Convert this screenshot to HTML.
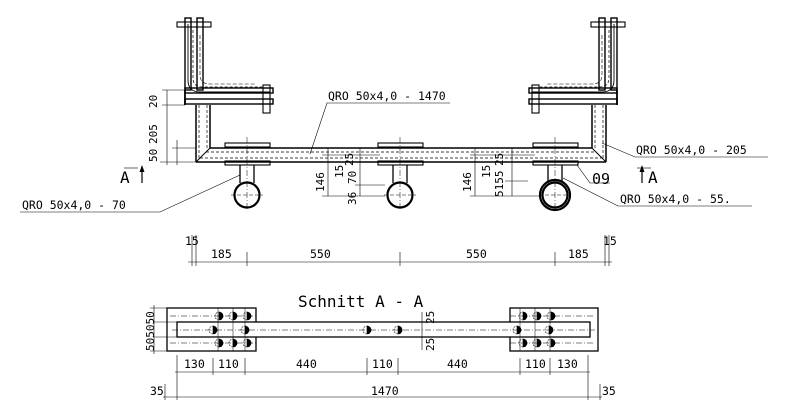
<!DOCTYPE html>
<html><head><style>
html,body{margin:0;padding:0;background:#fff;}
svg{display:block;}
text{font-family:"DejaVu Sans Mono","Liberation Mono",monospace;fill:#000;}
</style></head><body>
<svg width="800" height="412" viewBox="0 0 800 412" xmlns="http://www.w3.org/2000/svg">
<defs>
<g id="brL" stroke="#000" fill="none">
  <rect x="185" y="18" width="6" height="72" stroke-width="1.4"/>
  <rect x="197" y="18" width="6" height="72" stroke-width="1.4"/>
  <path d="M188 24 V80 Q188 92 200 92 H270" stroke-width="0.9"/>
  <path d="M193 30 V78 Q193 87 203 87 H262" stroke-width="0.7" stroke-dasharray="3,2"/>
  <path d="M200 35 V75 Q200 84 210 84 H255" stroke-width="0.6" stroke-dasharray="4,2"/>
  <rect x="185" y="88" width="88" height="5" stroke-width="1.4"/>
  <rect x="185" y="99" width="88" height="5" stroke-width="1.4"/>
  <line x1="185" y1="90" x2="185" y2="105" stroke-width="1.8"/>
  <rect x="177" y="22" width="34" height="5" stroke-width="1.1"/>
  <rect x="263" y="85" width="7" height="28" stroke-width="1.1"/>
  <line x1="196" y1="105" x2="196" y2="162" stroke-width="1.5"/>
  <line x1="210" y1="105" x2="210" y2="148" stroke-width="1.5"/>
  <line x1="199" y1="105" x2="199" y2="158" stroke-width="0.7" stroke-dasharray="3,2"/>
  <line x1="207" y1="105" x2="207" y2="150" stroke-width="0.7" stroke-dasharray="3,2"/>
  <line x1="196" y1="162" x2="210" y2="148" stroke-width="1"/>
</g>
<g id="wheel" stroke="#000" fill="none">
  <rect x="-22" y="-52" width="45" height="4" stroke-width="1.1"/>
  <rect x="-22" y="-34" width="45" height="4" stroke-width="1.1"/>
  <line x1="-7" y1="-30" x2="-7" y2="-12" stroke-width="1.3"/>
  <line x1="7" y1="-30" x2="7" y2="-12" stroke-width="1.3"/>
  <circle cx="0" cy="0" r="12.5" stroke-width="2.2"/>
  <line x1="0" y1="-58" x2="0" y2="16" stroke-width="0.5" stroke-dasharray="6,2,1,2"/>
  <line x1="-16" y1="0" x2="16" y2="0" stroke-width="0.5" stroke-dasharray="4,2"/>
</g>
</defs>

<use href="#brL"/>
<use href="#brL" transform="translate(802,0) scale(-1,1)"/>

<g stroke="#000" fill="none">
<line x1="210" y1="148" x2="592" y2="148" stroke-width="1.5"/>
<line x1="196" y1="162" x2="606" y2="162" stroke-width="1.5"/>
<line x1="206" y1="152" x2="596" y2="152" stroke-width="0.7" stroke-dasharray="3,2"/>
<line x1="200" y1="158" x2="602" y2="158" stroke-width="0.7" stroke-dasharray="3,2"/>
</g>
<use href="#wheel" transform="translate(247,195)"/>
<use href="#wheel" transform="translate(400,195)"/>
<g transform="translate(555,195)"><use href="#wheel"/><circle r="15" fill="none" stroke="#000" stroke-width="2.2"/></g>

<g stroke="#000" stroke-width="0.6" fill="none">
<line x1="167" y1="90" x2="167" y2="165"/>
<line x1="177" y1="140" x2="177" y2="165"/>
<line x1="162" y1="90" x2="185" y2="90"/><line x1="162" y1="105" x2="185" y2="105"/>
<line x1="160" y1="162" x2="196" y2="162"/><line x1="172" y1="148" x2="196" y2="148"/>
<line x1="328" y1="148" x2="328" y2="196"/><line x1="360" y1="148" x2="360" y2="196"/>
<line x1="322" y1="196" x2="385" y2="196"/><line x1="355" y1="185" x2="385" y2="185"/>
<line x1="322" y1="155" x2="380" y2="155"/><line x1="355" y1="162" x2="380" y2="162"/>
<line x1="475" y1="148" x2="475" y2="196"/><line x1="512" y1="148" x2="512" y2="196"/>
<line x1="470" y1="196" x2="540" y2="196"/><line x1="505" y1="181" x2="528" y2="181"/>
<line x1="470" y1="155" x2="535" y2="155"/>
<line x1="188" y1="262" x2="612" y2="262"/>
<line x1="192" y1="235" x2="192" y2="266"/><line x1="196" y1="235" x2="196" y2="266"/>
<line x1="247" y1="252" x2="247" y2="266"/><line x1="400" y1="252" x2="400" y2="266"/>
<line x1="555" y1="252" x2="555" y2="266"/>
<line x1="605" y1="235" x2="605" y2="266"/><line x1="609" y1="235" x2="609" y2="266"/>
<polyline points="20,212 160,212 240,175"/>
<polyline points="310,154 327,103 450,103"/>
<polyline points="602,143 635,157 768,157"/>
<polyline points="577,165 590,183 610,183"/>
<polyline points="563,178 618,206 752,206"/>
<polyline points="124,168 138,168"/><line x1="142" y1="167" x2="142" y2="183" stroke-width="1.2"/>
<polyline points="637,168 651,168"/><line x1="642" y1="167" x2="642" y2="183" stroke-width="1.2"/>
</g>
<path d="M142 165 l-2.5 7 h5 z M642 165 l-2.5 7 h5 z" fill="#000"/>

<g font-size="11.5">
<text x="120" y="183" font-family="Liberation Sans" font-size="16">A</text>
<text x="648" y="183" font-family="Liberation Sans" font-size="16">A</text>
<text x="22" y="209">QRO 50x4,0 - 70</text>
<text x="328" y="100">QRO 50x4,0 - 1470</text>
<text x="636" y="154">QRO 50x4,0 - 205</text>
<text x="620" y="203">QRO 50x4,0 - 55.</text>
<text x="592" y="184" font-size="15" font-family="Liberation Sans">09</text>
<text x="185" y="245">15</text><text x="211" y="258">185</text>
<text x="310" y="258">550</text><text x="466" y="258">550</text>
<text x="568" y="258">185</text><text x="603" y="245">15</text>
<g font-size="11">
<text transform="translate(157,108) rotate(-90)">20</text>
<text transform="translate(157,144) rotate(-90)">205</text>
<text transform="translate(157,162) rotate(-90)">50</text>
<text transform="translate(324,192) rotate(-90)">146</text>
<text transform="translate(343,178) rotate(-90)">15</text>
<text transform="translate(353,166) rotate(-90)">25</text>
<text transform="translate(356,184) rotate(-90)">70</text>
<text transform="translate(356,205) rotate(-90)">36</text>
<text transform="translate(471,192) rotate(-90)">146</text>
<text transform="translate(490,178) rotate(-90)">15</text>
<text transform="translate(503,166) rotate(-90)">25</text>
<text transform="translate(503,197) rotate(-90)">5155</text>
</g>
</g>

<text x="298" y="307" font-family="Liberation Sans" font-size="16">Schnitt A - A</text>
<g stroke="#000" fill="none">
<rect x="167" y="308" width="89" height="43" stroke-width="1.3"/>
<rect x="510" y="308" width="88" height="43" stroke-width="1.3"/>
<rect x="177" y="322" width="413" height="15" stroke-width="1.3" fill="#fff"/>
<g stroke-width="0.5" stroke-dasharray="6,2,1,2">
<line x1="170" y1="316" x2="256" y2="316"/><line x1="170" y1="343" x2="256" y2="343"/>
<line x1="510" y1="316" x2="595" y2="316"/><line x1="510" y1="343" x2="595" y2="343"/>
<line x1="172" y1="330" x2="595" y2="330"/>
</g>
<g stroke-width="0.5">
<line x1="218" y1="308" x2="218" y2="351"/><line x1="233" y1="308" x2="233" y2="351"/><line x1="245" y1="308" x2="245" y2="351"/>
<line x1="520" y1="308" x2="520" y2="351"/><line x1="535" y1="308" x2="535" y2="351"/><line x1="550" y1="308" x2="550" y2="351"/>
</g>
</g>
<g fill="#000" stroke="#000" stroke-width="0.6">
<g id="bolts">
<circle cx="219" cy="316" r="4" fill="none" stroke-dasharray="2,1"/><path d="M219 312 a4 4 0 0 1 0 8z"/>
<circle cx="233" cy="316" r="4" fill="none" stroke-dasharray="2,1"/><path d="M233 312 a4 4 0 0 1 0 8z"/>
<circle cx="247" cy="316" r="4" fill="none" stroke-dasharray="2,1"/><path d="M247 312 a4 4 0 0 1 0 8z"/>
<circle cx="219" cy="343" r="4" fill="none" stroke-dasharray="2,1"/><path d="M219 339 a4 4 0 0 1 0 8z"/>
<circle cx="233" cy="343" r="4" fill="none" stroke-dasharray="2,1"/><path d="M233 339 a4 4 0 0 1 0 8z"/>
<circle cx="247" cy="343" r="4" fill="none" stroke-dasharray="2,1"/><path d="M247 339 a4 4 0 0 1 0 8z"/>
<circle cx="213" cy="330" r="4" fill="none" stroke-dasharray="2,1"/><path d="M213 326 a4 4 0 0 1 0 8z"/>
<circle cx="245" cy="330" r="4" fill="none" stroke-dasharray="2,1"/><path d="M245 326 a4 4 0 0 1 0 8z"/>
</g>
<use href="#bolts" transform="translate(304,0)"/>
<circle cx="367" cy="330" r="4" fill="none" stroke-dasharray="2,1"/><path d="M367 326 a4 4 0 0 1 0 8z"/>
<circle cx="398" cy="330" r="4" fill="none" stroke-dasharray="2,1"/><path d="M398 326 a4 4 0 0 1 0 8z"/>
</g>
<g stroke="#000" stroke-width="0.6" fill="none">
<line x1="153" y1="322" x2="177" y2="322"/><line x1="153" y1="337" x2="177" y2="337"/>
<line x1="150" y1="351" x2="167" y2="351"/><line x1="150" y1="308" x2="167" y2="308"/>
<line x1="154" y1="305" x2="154" y2="354"/>
<line x1="422" y1="312" x2="422" y2="350"/>
<line x1="177" y1="355" x2="177" y2="400"/><line x1="213" y1="358" x2="213" y2="375"/>
<line x1="245" y1="358" x2="245" y2="375"/><line x1="367" y1="358" x2="367" y2="375"/>
<line x1="398" y1="358" x2="398" y2="375"/><line x1="520" y1="358" x2="520" y2="375"/>
<line x1="550" y1="358" x2="550" y2="375"/><line x1="588" y1="355" x2="588" y2="400"/>
<line x1="175" y1="372" x2="590" y2="372"/>
<line x1="165" y1="384" x2="165" y2="400"/><line x1="600" y1="384" x2="600" y2="400"/>
<line x1="163" y1="397" x2="602" y2="397"/>
</g>
<g font-size="11">
<text transform="translate(154,351) rotate(-90)">505050</text>
<text transform="translate(434,324) rotate(-90)">25</text>
<text transform="translate(434,351) rotate(-90)">25</text>
</g>
<g font-size="11.5">
<text x="184" y="368">130</text><text x="218" y="368">110</text>
<text x="296" y="368">440</text><text x="372" y="368">110</text>
<text x="447" y="368">440</text><text x="525" y="368">110</text><text x="557" y="368">130</text>
<text x="150" y="395">35</text><text x="371" y="395">1470</text><text x="602" y="395">35</text>
</g>
</svg>
</body></html>
